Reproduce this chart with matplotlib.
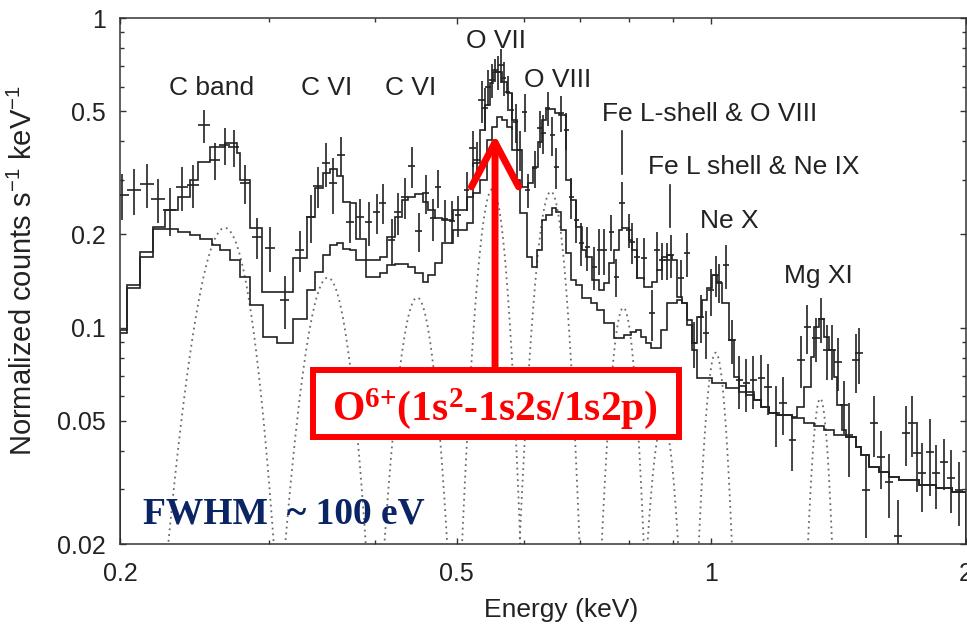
import numpy as np
import matplotlib
matplotlib.use("Agg")
import matplotlib.pyplot as plt
from matplotlib.patches import Rectangle, FancyArrowPatch
from matplotlib.ticker import LogLocator, NullFormatter

plt.rcParams['font.family'] = ['Liberation Sans', 'DejaVu Sans']
plt.rcParams['mathtext.default'] = 'regular'

# observed spectrum (keV, counts/s/keV)
energy = [
    .2011, .2078, .2152, .2218, .2291, .2367, .2439, .2513, .2589, .2661, .2727, .2809, .2903, .3007, .3132,
    .3263, .3362, .3426, .3502, .3569, .3647, .3738, .3841, .3936, .4022, .4089, .4190, .4259, .4341, .4424,
    .4509, .4596, .4684, .4748, .4839, .4932, .5013, .5137, .5222, .5279, .5351, .5395, .5439, .5499, .5544,
    .5589, .5635, .5681, .5743, .5806, .5869, .5933, .6015, .6064, .6180, .6265, .6333, .6403, .6490, .6561,
    .6651, .6742, .6834, .6928, .7023, .7138, .7276, .7375, .7476, .7620, .7724, .7851, .8002, .8068, .8178,
    .8335, .8518, .8635, .8753, .8873, .8970, .9217, .9369, .9549, .9732, .9865, 1.0000, 1.0137, 1.0220, 1.0417,
    1.0588, 1.0792, 1.0999, 1.1210, 1.1457, 1.1677, 1.1934, 1.2163, 1.2465, 1.2773, 1.2983, 1.3305, 1.3487,
    1.3709, 1.3896, 1.4125, 1.4357, 1.4554, 1.4834, 1.4955, 1.5243, 1.5578, 1.5877, 1.6223, 1.6624, 1.6990,
    1.7270, 1.7506, 1.7746, 1.8136, 1.8434, 1.8839, 1.9201, 1.9623]
energy_err = [
    .0040, .0040, .0040, .0040, .0040, .0040, .0040, .0040, .0040, .0040, .0040, .0040, .0040, .0040, .0040,
    .0040, .0040, .0040, .0040, .0040, .0040, .0040, .0040, .0040, .0040, .0040, .0040, .0040, .0040, .0040,
    .0040, .0040, .0040, .0040, .0040, .0040, .0040, .0040, .0045, .0045, .0045, .0045, .0045, .0045, .0045,
    .0045, .0045, .0045, .0045, .0045, .0045, .0045, .0045, .0045, .0045, .0045, .0045, .0045, .0045, .0045,
    .0045, .0045, .0050, .0050, .0050, .0050, .0050, .0050, .0050, .0050, .0060, .0065, .0065, .0065, .0065,
    .0070, .0070, .0070, .0070, .0070, .0075, .0075, .0075, .0080, .0080, .0080, .0080, .0085, .0085, .0085,
    .0110, .0110, .0110, .0115, .0115, .0120, .0120, .0125, .0125, .0130, .0130, .0135, .0135,
    .0140, .0140, .0145, .0145, .0150, .0150, .0155, .0155, .0160, .0160, .0165, .0170, .0175,
    .0175, .0180, .0180, .0185, .0190, .0190, .0195, .0200]
rate = [
    .268, .278, .291, .260, .240, .284, .289, .451, .348, .389, .383, .293, .196, .181, .123,
    .178, .228, .287, .340, .293, .361, .219, .228, .219, .236, .253, .192, .236, .264, .333,
    .205, .272, .226, .284, .224, .221, .231, .278, .380, .348, .543, .512, .599, .631, .679,
    .669, .705, .640, .577, .504, .461, .375, .497, .278, .328, .441, .425, .512, .419, .330,
    .493, .435, .264, .223, .188, .182, .157, .178, .178, .204, .146, .253, .207, .189, .169,
    .168, .1115, .178, .165, .165, .172, .145, .174, .0892, .108, .0961, .132, .148, .140, .159,
    .0912, .0677, .0662, .0677, .0687, .0643, .0530, .0571, .0433, .0786, .1004, .0926, .107,
    .0847, .0847, .0774, .0562, .0450, .0786, .0828, .0299, .0492, .0382, .0317, .0212, .0457,
    .0492, .0394, .0339, .0396, .0339, .0368, .0327, .0299]
rate_err = [
    .045, .047, .047, .043, .043, .046, .045, .055, .048, .053, .053, .042, .030, .030, .024,
    .027, .040, .043, .055, .060, .053, .032, .033, .036, .035, .037, .033, .037, .040, .050,
    .030, .040, .035, .040, .035, .035, .035, .040, .050, .050, .085, .080, .080, .080, .060,
    .085, .090, .080, .075, .070, .065, .055, .070, .035, .045, .060, .060, .065, .060, .050,
    .065, .060, .040, .035, .030, .030, .025, .030, .030, .027, .020, .043, .026, .029, .025,
    .026, .021, .026, .022, .022, .027, .020, .028, .015, .019, .017, .023, .022, .020, .026,
    .015, .013, .013, .013, .013, .012, .012, .012, .009, .015, .018, .015, .018,
    .017, .017, .015, .011, .012, .017, .017, .009, .011, .008, .0075, .0065, .010,
    .011, .010, .0085, .011, .008, .007, .0075, .007]

# folded total model (step histogram)
model_edges = [
    .2000, .2038, .2112, .2188, .2260, .2341, .2419, .2473, .2554, .2661, .2749, .2771, .2848, .2942, .3201,
    .3326, .3399, .3473, .3540, .3608, .3667, .3738, .3800, .3904, .4055, .4133, .4224, .4305, .4376, .4460,
    .4558, .4621, .4709, .4800, .4945, .5137, .5222, .5322, .5395, .5469, .5514, .5650, .5727, .5806, .5885,
    .5966, .6064, .6147, .6231, .6299, .6385, .6526, .6615, .6742, .6834, .6928, .7042, .7119, .7236, .7375,
    .7476, .7578, .7682, .7788, .7851, .8002, .8068, .8178, .8335, .8518, .8635, .8753, .8873, .8994, .9117,
    .9242, .9369, .9497, .9627, .9758, .9892, 1.0028, 1.0165, 1.0304, 1.0502, 1.0646, 1.0792, 1.0999, 1.1241,
    1.1457, 1.1709, 1.1966, 1.2465, 1.2635, 1.2878, 1.3125, 1.3233, 1.3414, 1.3598, 1.3784, 1.3972, 1.4086,
    1.4280, 1.4435, 1.4834, 1.5032, 1.5363, 1.5786, 1.6223, 1.6667, 1.7601, 1.8434, 1.9253, 2.0000]
model_rate = [
    .0982, .137, .175, .211, .240, .264, .300, .343, .383, .395, .366, .300, .210, .130,
    .168, .228, .282, .316, .325, .309, .254, .253, .193, .165, .169, .196, .228, .258, .264,
    .270, .254, .240, .226, .223, .240, .264, .340, .435, .524, .617, .669, .622, .573, .468,
    .375, .284, .293, .330, .397, .468, .508, .493, .486, .300, .258, .211, .178, .169, .142,
    .132, .139, .162, .178, .207, .210, .192, .178, .145, .135, .140, .153, .169, .172, .165,
    .126, .120, .106, .0892, .108, .123, .134, .148, .139, .120, .0912, .0692, .065, .062,
    .0584, .0554, .053, .0522, .0514, .0554, .0643, .0804, .1004, .107, .0932, .0847, .0692,
    .0562, .0467, .0443, .0411, .0388, .0355, .0342, .0329, .0322, .031, .0303, .0294]

# second model histogram
comp_edges = [
    .2000, .2038, .2112, .2188, .2260, .2341, .2419, .2486, .2568, .2625, .2697, .2771, .2848, .2950, .3065,
    .3201, .3326, .3399, .3473, .3540, .3608, .3667, .3738, .3800, .3904, .4055, .4133, .4224, .4376, .4460,
    .4558, .4621, .4709, .4800, .4945, .5137, .5222, .5322, .5424, .5499, .5574, .5650, .5727, .5806, .5885,
    .5933, .6047, .6130, .6214, .6299, .6385, .6473, .6561, .6651, .6742, .6834, .6928, .7042, .7216, .7335,
    .7476, .7682, .7894, .8046, .8156, .8268, .8381, .8495, .8729, .8873, .9117, .9242, .9369, .9497, .9627,
    1.0028, 1.0417, 1.0792, 1.0999, 1.1241, 1.1457, 1.1709, 1.1966, 1.2465, 1.2878, 1.3233, 1.3598, 1.3972,
    1.4435, 1.4834, 1.5032, 1.5363, 1.5786, 1.6223, 1.6667, 1.7601, 1.8434, 1.9253, 2.0000]
comp_rate = [
    .0958, .134, .169, .208, .208, .204, .199, .193, .185, .178, .165, .146, .118, .0932,
    .0892, .107, .132, .151, .172, .185, .188, .180, .178, .165, .146, .150, .159, .160, .157,
    .150, .140, .148, .162, .188, .207, .218, .272, .300, .404, .445, .479, .468, .445, .375,
    .300, .235, .169, .157, .178, .223, .231, .243, .236, .207, .174, .142, .137, .125, .120,
    .114, .1035, .0926, .0946, .0968, .0982, .0932, .0892, .0859, .0982, .120, .123, .120, .102,
    .0847, .0687, .0662, .064, .062, .0604, .0584, .0554, .053, .0522, .051, .0492, .0481,
    .0467, .045, .0443, .0411, .0388, .0355, .0342, .0329, .0322, .031, .0303, .0294]

# gaussian line components (dotted)
line_centre = [0.266, 0.352, 0.449, 0.551, 0.646, 0.787, 0.877, 1.012, 1.345]
line_peak = [0.21, 0.145, 0.125, 0.28, 0.275, 0.116, 0.05, 0.083, 0.059]
line_sigma = [0.0175, 0.0193, 0.020, 0.019, 0.023, 0.024, 0.027, 0.027, 0.030]

line_labels = ['C band', 'C VI', 'C VI', 'O VII', 'O VIII',
               'Fe L-shell & O VIII', 'Fe L shell & Ne IX', 'Ne X', 'Mg XI']
label_x = [0.2568, 0.3511, 0.4412, 0.5559, 0.6579, 0.9946, 1.1210, 1.0500, 1.3378]
label_y = [0.564, 0.564, 0.564, 0.800, 0.599, 0.465, 0.313, 0.210, 0.139]

ink = '#222222'

fig = plt.figure(figsize=(9.67, 6.3), dpi=100)
ax = fig.add_axes([120 / 967, 1 - 544 / 630, 846 / 967, 526 / 630])
ax.set_xscale('log')
ax.set_yscale('log')
ax.set_xlim(0.2, 2.0)
ax.set_ylim(0.02, 1.0)

grid = np.geomspace(0.2, 2.0, 4000)
for c, p, s in zip(line_centre, line_peak, line_sigma):
    prof = p * np.exp(-0.5 * ((grid - c) / s) ** 2)
    keep = prof > 0.015
    ax.plot(grid[keep], prof[keep], color='#6a6a6a', lw=1.3,
            linestyle=(0, (1, 2.2)), zorder=1)

ax.stairs(comp_rate, comp_edges, color=ink, lw=1.2, zorder=2)
ax.stairs(model_rate, model_edges, color=ink, lw=1.2, zorder=2)
ax.errorbar(energy, rate, xerr=energy_err, yerr=rate_err, fmt='none',
            ecolor=ink, elinewidth=1.2, capsize=0, zorder=3)

for txt, x, y in zip(line_labels, label_x, label_y):
    ax.text(x, y, txt, ha='center', va='baseline', fontsize=19, color=ink, zorder=4)
# marker lines under two labels
ax.plot([0.7851, 0.7851], [0.313, 0.431], color=ink, lw=1.2, zorder=4)
ax.plot([0.8945, 0.8945], [0.211, 0.289], color=ink, lw=1.2, zorder=4)

ax.set_xticks([0.2, 0.5, 1, 2], ['0.2', '0.5', '1', '2'])
ax.set_yticks([0.02, 0.05, 0.1, 0.2, 0.5, 1], ['0.02', '0.05', '0.1', '0.2', '0.5', '1'])
ax.xaxis.set_minor_locator(LogLocator(subs=np.arange(2, 10)))
ax.yaxis.set_minor_locator(LogLocator(subs=np.arange(2, 10)))
ax.xaxis.set_minor_formatter(NullFormatter())
ax.yaxis.set_minor_formatter(NullFormatter())
ax.tick_params(which='both', direction='in', top=True, right=True,
               color='#333333', labelcolor=ink, labelsize=18, width=1)
ax.tick_params(which='major', length=4.5)
ax.tick_params(which='minor', length=3)
ax.tick_params(axis='x', which='major', pad=13)
ax.tick_params(axis='y', which='major', pad=10)
for sp in ax.spines.values():
    sp.set_color('#333333')
    sp.set_linewidth(1.1)

fig.text(561 / 967, 1 - 598 / 630, 'Energy (keV)', ha='center', va='top',
         fontsize=19, color=ink)
fig.text(23 / 967, 1 - 271 / 630, 'Normalized counts s$^{-1}$ keV$^{-1}$',
         rotation=90, ha='center', va='center', fontsize=21, color=ink)

# red callout
arrow = FancyArrowPatch((0.4433, 0.3365), (0.4433, 0.7776), transform=ax.transAxes,
                        arrowstyle='->,head_length=1.6,head_width=0.85',
                        mutation_scale=20, lw=5, color='#ff0000',
                        shrinkA=0, shrinkB=0, capstyle='round', zorder=6)
ax.add_patch(arrow)
box = Rectangle((0.2281, 0.2034), 0.4327, 0.1274, transform=ax.transAxes,
                facecolor='white', edgecolor='#ff0000', lw=4.3, zorder=7)
ax.add_patch(box)
ax.text(0.4433, 0.2357, r'O$^{6{+}}$(1s$^{2}$-1s2s/1s2p)', transform=ax.transAxes,
        ha='center', va='baseline', color='#ff0000', fontsize=30,
        fontweight='bold', family='Liberation Serif', zorder=8)

ax.text(0.0272, 0.0399, 'FWHM  ~ 100 eV', transform=ax.transAxes,
        ha='left', va='baseline', fontsize=27, fontweight='bold',
        family='Liberation Serif', color='#0b2463', zorder=8)

fig.savefig('out.png', dpi=100)
